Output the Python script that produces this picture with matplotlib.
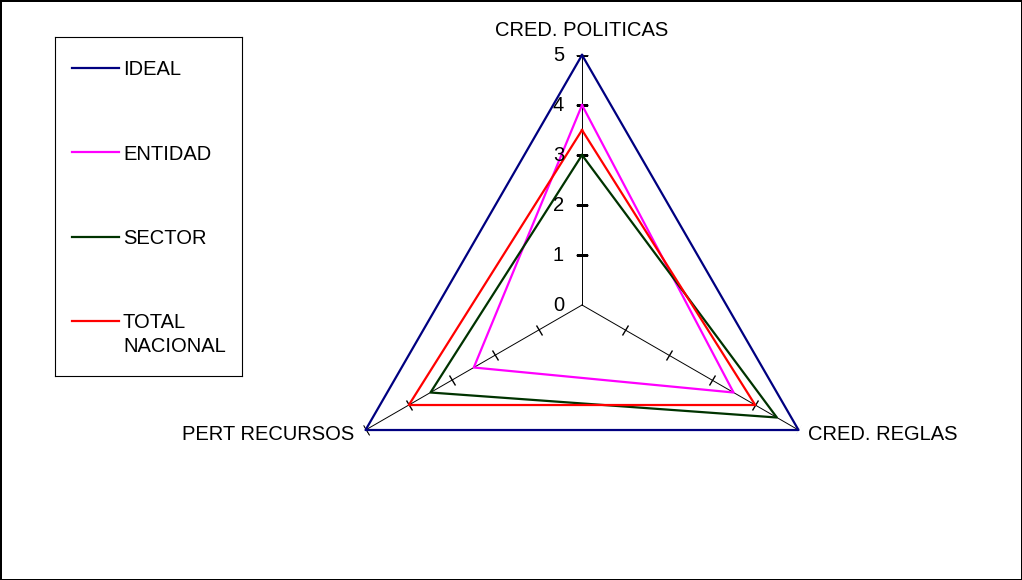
import numpy as np
import matplotlib.pyplot as plt
from matplotlib.markers import MarkerStyle
from matplotlib.transforms import Affine2D

plt.rcParams['font.family'] = ['Liberation Sans', 'DejaVu Sans']

axes_labels = ['CRED. POLITICAS', 'CRED. REGLAS', 'PERT RECURSOS']
series_names = ['IDEAL', 'ENTIDAD', 'SECTOR', 'TOTAL\nNACIONAL']
ideal = [5, 5, 5]
entidad = [4, 3.5, 2.5]
sector = [3, 4.5, 3.5]
total_nacional = [3.5, 4, 4]
scale_ticks = [0, 1, 2, 3, 4, 5]

colors = ['#000080', '#FF00FF', '#003300', '#FF0000']
fs = 14.5

fig = plt.figure(figsize=(10.22, 5.8), dpi=100, edgecolor='black', linewidth=2)
ax = fig.add_axes([0.3249, 0.0431, 0.4892, 0.862], projection='polar')
ax.set_theta_zero_location('N')
ax.set_theta_direction(-1)
ax.set_ylim(0, 5)
ax.grid(False)
ax.spines['polar'].set_visible(False)
ax.set_xticks([])
ax.set_yticks([])

angles = np.linspace(0, 2 * np.pi, len(axes_labels), endpoint=False)

# spokes with tick marks
for i, a in enumerate(angles):
    ax.plot([a, a], [0, 5], color='black', lw=0.7, zorder=1)
    screen_dir = 90 - np.degrees(a)
    mk = MarkerStyle('_', transform=Affine2D().rotate_deg(screen_dir + 90))
    ax.plot([a] * 5, scale_ticks[1:], linestyle='none', marker=mk,
            markersize=8, markeredgewidth=1, color='black', zorder=1)

lines = []
for name, vals, c in zip(series_names, [ideal, entidad, sector, total_nacional], colors):
    th = np.append(angles, angles[0])
    rv = np.append(vals, vals[0])
    ln, = ax.plot(th, rv, color=c, lw=1.6, label=name, zorder=2, clip_on=False)
    lines.append(ln)

for t in scale_ticks:
    ax.annotate(str(t), xy=(0, t), xytext=(-13, 0), textcoords='offset points',
                ha='right', va='center', fontsize=fs)

ax.annotate(axes_labels[0], xy=(angles[0], 5), xytext=(0, 18), textcoords='offset points',
            ha='center', va='center', fontsize=fs)
ax.annotate(axes_labels[1], xy=(angles[1], 5), xytext=(7, -3.5), textcoords='offset points',
            ha='left', va='center', fontsize=fs)
ax.annotate(axes_labels[2], xy=(angles[2], 5), xytext=(-8, -3.5), textcoords='offset points',
            ha='right', va='center', fontsize=fs)

# legend box, laid out in pixels inside the box
leg = fig.add_axes([55 / 1022, 1 - 376 / 580, 187 / 1022, 339 / 580])
leg.set_xlim(0, 187)
leg.set_ylim(339, 0)
leg.set_xticks([])
leg.set_yticks([])
for s in leg.spines.values():
    s.set_linewidth(0.8)
row_y = [30.5, 115, 199.5, 283.5]
for ln, y in zip(lines, row_y):
    leg.plot([16.5, 64.5], [y, y], color=ln.get_color(), lw=1.6)
    for k, part in enumerate(ln.get_label().split('\n')):
        leg.text(68, y + 24 * k, part, ha='left', va='center_baseline', fontsize=fs)

fig.savefig('out.png', dpi=100)
